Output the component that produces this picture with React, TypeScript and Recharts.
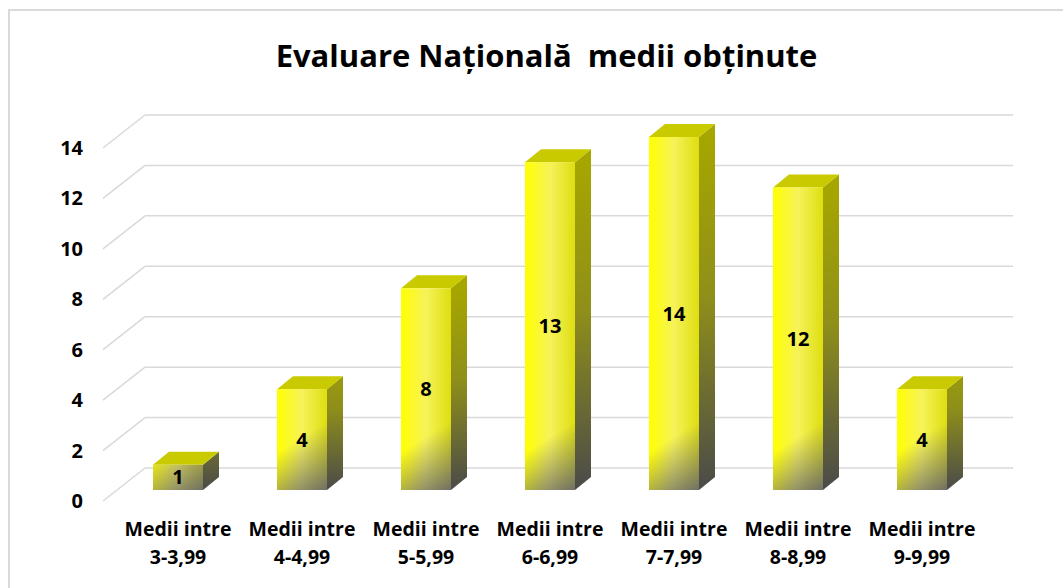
import { BarChart, Bar, XAxis, YAxis, CartesianGrid, LabelList } from "recharts";

const categories = [
  "Medii intre 3-3,99",
  "Medii intre 4-4,99",
  "Medii intre 5-5,99",
  "Medii intre 6-6,99",
  "Medii intre 7-7,99",
  "Medii intre 8-8,99",
  "Medii intre 9-9,99",
];
const counts = [1, 4, 8, 13, 14, 12, 4];
const yTicks = [0, 2, 4, 6, 8, 10, 12, 14];

const data = categories.map((name, i) => ({ name, value: counts[i] }));

const FONT = "'Open Sans', 'Noto Sans', sans-serif";
const DX = 16; // depth of bar top/side
const DY = 13;

function Bar3D(props: any) {
  const { x, y, width: w, height: h, index } = props;
  if (h == null || w == null) return null;
  const bottom = y + h;
  const id = `b${index}`;
  return (
    <g>
      <defs>
        <linearGradient id={`${id}-front`} x1="0" y1="0" x2="1" y2="0">
          <stop offset="0" stopColor="#ffff00" />
          <stop offset="0.5" stopColor="#f6f25a" />
          <stop offset="1" stopColor="#dede10" />
        </linearGradient>
        <linearGradient
          id={`${id}-shade`}
          gradientUnits="userSpaceOnUse"
          x1={x}
          y1={bottom - 80}
          x2={x + w}
          y2={bottom}
        >
          <stop offset="0.38" stopColor="#747474" stopOpacity={0} />
          <stop offset="1" stopColor="#6a6a6a" stopOpacity={0.95} />
        </linearGradient>
        <linearGradient
          id={`${id}-side`}
          gradientUnits="userSpaceOnUse"
          x1={0}
          y1={Math.min(y, bottom - 150)}
          x2={0}
          y2={bottom}
        >
          <stop offset="0" stopColor="#a6a600" />
          <stop offset="0.45" stopColor="#8f8f1a" />
          <stop offset="1" stopColor="#4a4a4a" />
        </linearGradient>
      </defs>
      <polygon
        points={`${x + w},${y} ${x + w + DX},${y - DY} ${x + w + DX},${bottom - DY} ${x + w},${bottom}`}
        fill={`url(#${id}-side)`}
      />
      <polygon
        points={`${x},${y} ${x + DX},${y - DY} ${x + w + DX},${y - DY} ${x + w},${y}`}
        fill="#caca00"
      />
      <rect x={x} y={y} width={w} height={h} fill={`url(#${id}-front)`} />
      <rect x={x} y={y} width={w} height={h} fill={`url(#${id}-shade)`} />
    </g>
  );
}

// gridlines live on the back wall, with a slanted piece on the left floor edge
function GridLine(props: any) {
  const { x1, x2, y1 } = props;
  return (
    <g key={props.key}>
      <line x1={x1 - 13} y1={y1 + 11} x2={x1 + 29} y2={y1 - 22} stroke="#d9d9d9" strokeWidth={1.5} />
      <line x1={x1 + 29} y1={y1 - 22} x2={x2 + 29} y2={y1 - 22} stroke="#d9d9d9" strokeWidth={1.5} />
    </g>
  );
}

function YTick(props: any) {
  const { y, payload } = props;
  return (
    <text x={83} y={y + 18} textAnchor="end" fontFamily={FONT} fontWeight="bold" fontSize={20} fill="#000">
      {payload.value}
    </text>
  );
}

function XTick(props: any) {
  const { x, payload } = props;
  const parts = String(payload.value).split(" ");
  const line1 = parts.slice(0, 2).join(" ");
  const line2 = parts.slice(2).join(" ");
  return (
    <text textAnchor="middle" fontFamily={FONT} fontWeight="bold" fontSize={19.5} fill="#000">
      <tspan x={x} y={536}>{line1}</tspan>
      <tspan x={x} y={564}>{line2}</tspan>
    </text>
  );
}

export default function App() {
  return (
    <div style={{ position: "absolute", left: 0, top: 0, width: 1063, height: 588, background: "#fff", overflow: "hidden" }}>
      <div
        style={{
          position: "absolute",
          left: 8,
          top: 9,
          width: 1100,
          height: 620,
          border: "2px solid #d9d9d9",
          boxSizing: "border-box",
        }}
      />
      <div
        style={{
          position: "absolute",
          left: 0,
          top: 34,
          width: 1093,
          textAlign: "center",
          fontFamily: FONT,
          fontWeight: "bold",
          fontSize: 31,
          color: "#000",
          whiteSpace: "pre",
        }}
      >
        {"Evaluare Națională  medii obținute"}
      </div>
      <div style={{ position: "absolute", left: 0, top: 0 }}>
        <BarChart
          width={1063}
          height={588}
          data={data}
          margin={{ top: 137, right: 79, bottom: 38, left: 0 }}
          barSize={50}
        >
          <CartesianGrid vertical={false} horizontal={(p: any) => <GridLine {...p} />} />
          <XAxis dataKey="name" axisLine={false} tickLine={false} height={60} interval={0} tick={<XTick />} />
          <YAxis
            width={116}
            domain={[0, 14]}
            ticks={yTicks}
            axisLine={false}
            tickLine={false}
            tick={<YTick />}
            interval={0}
          />
          <Bar dataKey="value" shape={<Bar3D />} isAnimationActive={false}>
            <LabelList
              dataKey="value"
              position="center"
              fill="#000"
              fontFamily={FONT}
              fontWeight="bold"
              fontSize={20}
            />
          </Bar>
        </BarChart>
      </div>
    </div>
  );
}
